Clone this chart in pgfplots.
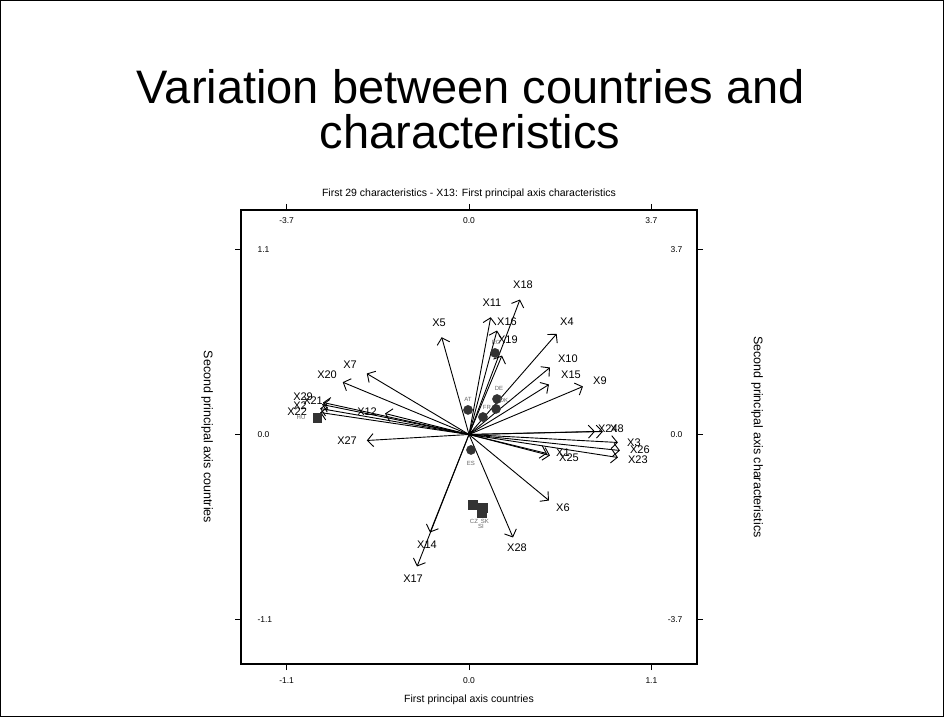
\documentclass[border=0pt]{standalone}
\usepackage{fontspec}
\setmainfont{Liberation Sans}
\usepackage{pgfplots}
\pgfplotsset{compat=1.18}
\usepackage{pgfplotstable}
\usetikzlibrary{arrows.meta}

\definecolor{markgray}{HTML}{333333}
\definecolor{labgray}{HTML}{666666}

% Characteristic vectors (second scale): tip (x,y), label position (lx,ly)
\pgfplotstableread{
name ox oy x      y      lx     ly
X1   0  0  1.582  -0.38  1.906  -0.36
X2   0  0  -3.02  0.52   -3.427 0.58
X3   0  0  3.021  -0.16  3.346  -0.16
X4   0  0  1.778  2.014  1.987  2.26
X5   0  0  -0.554 1.946  -0.608 2.24
X6   0  0  1.622  -1.32  1.906  -1.46
X7   0  0  -2.074 1.22   -2.413 1.40
X8   0  0  2.717  0.06   3.000  0.12
X9   0  0  2.311  0.96   2.656  1.08
X10  0  0  1.642  1.34   2.007  1.52
X11  0  0  0.440  2.346  0.466  2.64
X12  0  0  -1.703 0.42   -2.068 0.46
X14  0  0  -0.791 -1.96  -0.852 -2.20
X15  0  0  1.622  1.00   2.068  1.20
X16  0  0  0.568  2.08   0.770  2.26
X17  0  0  -1.054 -2.64  -1.135 -2.88
X18  0  0  1.034  2.70   1.095  3.00
X19  0  0  0.669  1.58   0.790  1.90
X20  0  0  -2.561 1.046  -2.879 1.20
X21  0  0  -2.96  0.64   -3.163 0.68
X22  0  0  -3.02  0.44   -3.487 0.46
X23  0  0  3.021  -0.46  3.427  -0.50
X24  0  0  2.555  0.06   2.818  0.12
X25  0  0  1.642  -0.42  2.028  -0.46
X26  0  0  3.062  -0.32  3.467  -0.30
X27  0  0  -2.074 -0.12  -2.474 -0.12
X28  0  0  0.892  -2.06  0.973  -2.26
X29  0  0  -2.98  0.60   -3.366 0.76
}\charvectors

% Countries (first scale): position (x,y), label position (lx,ly)
\pgfplotstableread{
name x      y      lx     ly
AT   -0.006 0.146  -0.006 0.211
RO   0.157  0.485  0.163  0.550
DE   0.169  0.211  0.181  0.271
DK   0.163  0.152  0.211  0.205
FR   0.084  0.104  0.108  0.158
ES   0.012  -0.092 0.012  -0.170
}\roundcountries

\pgfplotstableread{
name x      y      lx     ly
HU   -0.916 0.098  -1.013 0.104
CZ   0.024  -0.419 0.030  -0.515
SK   0.084  -0.437 0.096  -0.515
SI   0.078  -0.467 0.072  -0.544
}\squarecountries

\pgfplotsset{
  biplotframe/.style={
    scale only axis, width=456pt, height=454pt,
    at={(241pt,53pt)}, anchor=south west,
    tick align=outside, major tick length=6pt,
    axis line style={line width=1.2pt},
    tick style={line width=1pt, black},
    ticklabel style={font=\fontsize{8.5}{10}\selectfont},
    clip=false,
  },
}

\begin{document}
\begin{tikzpicture}
\useasboundingbox (0pt,0pt) rectangle (944pt,717pt);
\draw[line width=1.2pt] (0.6pt,0.6pt) rectangle (943.4pt,716.4pt);
\node[font=\fontsize{47}{50}\selectfont, anchor=base] at (471pt,613pt) {Variation between countries and};
\node[font=\fontsize{47}{50}\selectfont, anchor=base] at (470pt,568pt) {characteristics};

% characteristics scale: top and right
\begin{axis}[biplotframe,
  xmin=-4.625, xmax=4.625, ymin=-4.591, ymax=4.491,
  xtick={-3.7,0,3.7}, xticklabels={-3.7,0.0,3.7},
  ytick={-3.7,0,3.7}, yticklabels={-3.7,0.0,3.7},
  xtick pos=right, xticklabel pos=right,
  ytick pos=right, yticklabel pos=right,
  xticklabel style={anchor=north}, xticklabel shift=-10pt,
  yticklabel style={anchor=east}, yticklabel shift=-17pt,
  title={First 29 characteristics - X13: First principal axis characteristics},
  title style={font=\fontsize{10.5}{12}\selectfont, at={(axis description cs:0.5,1.022)}, anchor=center},
  ylabel={Second principal axis characteristics},
  ylabel style={font=\fontsize{12.5}{14}\selectfont, at={(axis description cs:1.1316,0.5)}, anchor=center, rotate=180},
]
\addplot[black, line width=0.9pt, no markers,
  quiver={u=\thisrow{x}, v=\thisrow{y}},
  -{Straight Barb[length=6pt,width=13pt]}]
  table[x=ox, y=oy] {\charvectors};
\addplot[only marks, mark=none, nodes near coords, point meta=explicit symbolic,
  nodes near coords style={anchor=center, font=\fontsize{11}{12}\selectfont, black}]
  table[x=lx, y=ly, meta=name] {\charvectors};
\end{axis}

% countries scale: bottom and left
\begin{axis}[biplotframe,
  xmin=-1.375, xmax=1.375, ymin=-1.365, ymax=1.335,
  xtick={-1.1,0,1.1}, xticklabels={-1.1,0.0,1.1},
  ytick={-1.1,0,1.1}, yticklabels={-1.1,0.0,1.1},
  xtick pos=left, xticklabel pos=left,
  ytick pos=left, yticklabel pos=left,
  xticklabel shift=4pt,
  yticklabel style={anchor=west}, yticklabel shift=-19pt,
  xlabel={First principal axis countries},
  xlabel style={font=\fontsize{10.5}{12}\selectfont, at={(axis description cs:0.5,-0.079)}, anchor=center},
  ylabel={Second principal axis countries},
  ylabel style={font=\fontsize{12.5}{14}\selectfont, at={(axis description cs:-0.0746,0.5)}, anchor=center, rotate=180},
]
\addplot[only marks, mark=*, mark size=4.6pt, color=markgray] table[x=x, y=y] {\roundcountries};
\addplot[only marks, mark=square*, mark size=4.4pt, color=markgray] table[x=x, y=y] {\squarecountries};
\addplot[only marks, mark=none, nodes near coords, point meta=explicit symbolic,
  nodes near coords style={anchor=center, font=\fontsize{6}{7}\selectfont, labgray}]
  table[x=lx, y=ly, meta=name] {\roundcountries};
\addplot[only marks, mark=none, nodes near coords, point meta=explicit symbolic,
  nodes near coords style={anchor=center, font=\fontsize{6}{7}\selectfont, labgray}]
  table[x=lx, y=ly, meta=name] {\squarecountries};
\end{axis}
\end{tikzpicture}
\end{document}
